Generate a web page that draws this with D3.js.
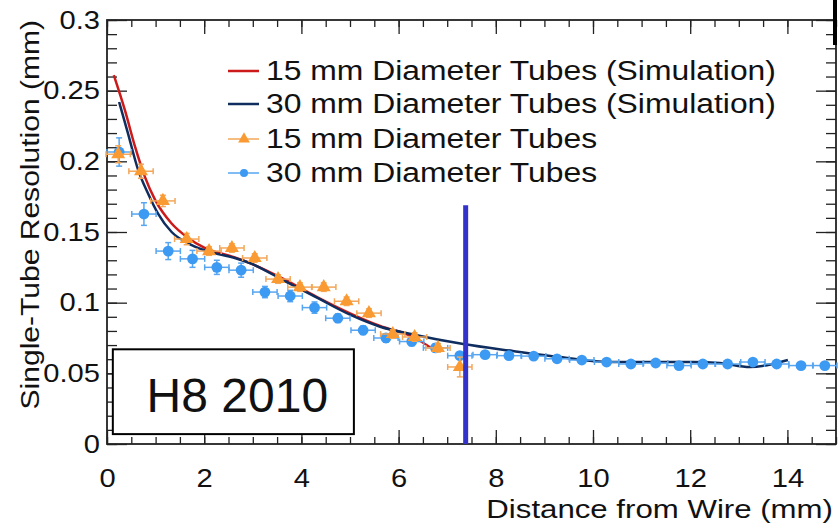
<!DOCTYPE html>
<html>
<head>
<meta charset="utf-8">
<script src="https://cdn.jsdelivr.net/npm/d3@7"></script>
<style>
  body { margin: 0; background: #fff; }
  svg text { font-family: "Liberation Sans", Arial, Helvetica, sans-serif; fill: #111; }
</style>
</head>
<body>
<div id="chart"></div>
<script>
// Data

// 15 mm tubes, measured (triangles)
const tube15X = [0.23, 0.70, 1.15, 1.64, 2.10, 2.57, 3.04, 3.52, 3.97, 4.46, 4.93, 5.39, 5.88, 6.33, 6.81, 7.26];
const tube15Y = [0.205, 0.193, 0.172, 0.145, 0.1365, 0.1387, 0.1316, 0.1167, 0.111, 0.111, 0.101, 0.0926, 0.0778, 0.0757, 0.068, 0.0545];
const tube15Ey = [0.006, 0.005, 0.004, 0.004, 0.003, 0.003, 0.003, 0.003, 0.003, 0.003, 0.003, 0.003, 0.003, 0.003, 0.003, 0.007];
const tube15Ex = 0.25;

// 30 mm tubes, measured (circles)
const tube30X = [0.25, 0.76, 1.26, 1.76, 2.26, 2.76, 3.25, 3.77, 4.27, 4.75, 5.27, 5.74, 6.27, 6.76, 7.26,
                 7.78, 8.27, 8.78, 9.26, 9.77, 10.28, 10.78, 11.29, 11.77, 12.26, 12.77, 13.29, 13.78, 14.28, 14.77];
const tube30Y = [0.2066, 0.1627, 0.1365, 0.131, 0.125, 0.123, 0.1075, 0.1047, 0.0965, 0.089, 0.0805, 0.075, 0.0725, 0.068, 0.0625,
                 0.0632, 0.0625, 0.0622, 0.0603, 0.0594, 0.058, 0.0566, 0.0573, 0.0555, 0.0566, 0.0566, 0.058, 0.0566, 0.0555, 0.0555];
const tube30Ey = [0.010, 0.008, 0.006, 0.006, 0.005, 0.005, 0.004, 0.004, 0.004, 0.003, 0.003, 0.003, 0.003, 0.003, 0.002,
                  0.002, 0.002, 0.002, 0.002, 0.002, 0.002, 0.002, 0.002, 0.002, 0.002, 0.002, 0.002, 0.002, 0.002, 0.002];
const tube30Ex = 0.25;

// simulation curves
const sim15X = [0.14, 0.37, 0.58, 0.78, 0.99, 1.33, 1.67, 2.01, 2.63, 2.94, 3.62, 4.32, 5.0, 5.62, 6.3, 6.71];
const sim15Y = [0.261, 0.236, 0.210, 0.189, 0.1727, 0.156, 0.1458, 0.1387, 0.132, 0.128, 0.117, 0.104, 0.0925, 0.0835, 0.0757, 0.067];
const sim30X = [0.25, 0.43, 0.64, 0.84, 1.05, 1.33, 1.67, 2.01, 2.63, 2.94, 3.62, 4.32, 5.0, 5.62, 6.3, 7.33,
                8.35, 9.32, 10.35, 11.38, 12.06, 12.61, 13.23, 13.7, 14.01];
const sim30Y = [0.242, 0.22, 0.194, 0.1776, 0.163, 0.150, 0.142, 0.137, 0.1316, 0.128, 0.116, 0.1035, 0.0915, 0.083, 0.0775, 0.0707,
                0.0658, 0.0615, 0.058, 0.058, 0.058, 0.0573, 0.0545, 0.0566, 0.0594];

// axes
const xTicks = [0, 2, 4, 6, 8, 10, 12, 14];
const yTicks = [0, 0.05, 0.1, 0.15, 0.2, 0.25, 0.3];
const yTickLabels = ["0", "0.05", "0.1", "0.15", "0.2", "0.25", "0.3"];

const legendLabels = [
  "15 mm Diameter Tubes (Simulation)",
  "30 mm Diameter Tubes (Simulation)",
  "15 mm Diameter Tubes",
  "30 mm Diameter Tubes"
];

// annotations
const markerX = 7.38, markerTop = 0.169;   // blue vertical line
const boxX = [0.12, 5.08], boxY = [0.007, 0.067];
const boxLabel = "H8 2010";

const width = 840, height = 526;
const red = "#cc1a1a", navy = "#0f2d5e", orange = "#fa9a32", orangeBar = "#f3a75a",
      blue = "#3d9af3", blueBar = "#58a6f0";

const x = d3.scaleLinear().domain([0, 15]).range([107, 836]);
const y = d3.scaleLinear().domain([0, 0.3]).range([444, 20]);

const svg = d3.select('#chart').append('svg')
  .attr('width', width)
  .attr('height', height);

svg.append('rect').attr('width', width).attr('height', height).attr('fill', '#fff');

// stretch text horizontally a little, the original font runs wide
function widen(sel, k) {
  sel.each(function () {
    const w = this.getComputedTextLength();
    d3.select(this).attr('textLength', w * k).attr('lengthAdjust', 'spacingAndGlyphs');
  });
}

// Axes: majors + minors on all four sides
const minorX = d3.range(0, 15.001, 0.5);
const minorY = d3.range(0, 0.3001, 0.01);

function axisGroup(axis, tx, ty) {
  const g = svg.append('g').attr('transform', `translate(${tx},${ty})`).call(axis);
  g.select('.domain').remove();
  g.selectAll('line').attr('stroke', '#222').attr('stroke-width', 1.3);
  return g;
}

const xAxis = axisGroup(d3.axisBottom(x).tickValues(xTicks).tickSize(-14).tickSizeOuter(0).tickPadding(25).tickFormat(d => d), 0, y(0));
axisGroup(d3.axisBottom(x).tickValues(minorX).tickSize(-7).tickFormat(''), 0, y(0));
axisGroup(d3.axisTop(x).tickValues(xTicks).tickSize(-14).tickFormat(''), 0, y(0.3));
axisGroup(d3.axisTop(x).tickValues(minorX).tickSize(-7).tickFormat(''), 0, y(0.3));

const yAxis = axisGroup(d3.axisLeft(y).tickValues(yTicks).tickSize(-20).tickPadding(7).tickFormat((d, i) => yTickLabels[i]), x(0), 0);
axisGroup(d3.axisLeft(y).tickValues(minorY).tickSize(-10).tickFormat(''), x(0), 0);
axisGroup(d3.axisRight(y).tickValues(yTicks).tickSize(-20).tickFormat(''), x(15), 0);
axisGroup(d3.axisRight(y).tickValues(minorY).tickSize(-10).tickFormat(''), x(15), 0);

xAxis.selectAll('text').attr('font-size', 26).attr('fill', '#111').call(widen, 1.12);
yAxis.selectAll('text').attr('font-size', 26).attr('fill', '#111').call(widen, 1.12);

// frame
svg.append('rect')
  .attr('x', x(0)).attr('y', y(0.3))
  .attr('width', x(15) - x(0)).attr('height', y(0) - y(0.3))
  .attr('fill', 'none').attr('stroke', '#222').attr('stroke-width', 1.8);

// axis titles
svg.append('text')
  .attr('x', x(15) - 3).attr('y', 518)
  .attr('text-anchor', 'end')
  .attr('font-size', 26)
  .text('Distance from Wire (mm)')
  .call(widen, 1.2);

svg.append('text')
  .attr('transform', `translate(39,${y(0.3)}) rotate(-90)`)
  .attr('text-anchor', 'end')
  .attr('font-size', 26)
  .text('Single-Tube Resolution (mm)')
  .call(widen, 1.155);

// simulation curves
const line = d3.line().curve(d3.curveMonotoneX);
svg.append('path')
  .attr('d', line(sim15X.map((d, i) => [x(d), y(sim15Y[i])])))
  .attr('fill', 'none').attr('stroke', red).attr('stroke-width', 2.5);
svg.append('path')
  .attr('d', line(sim30X.map((d, i) => [x(d), y(sim30Y[i])])))
  .attr('fill', 'none').attr('stroke', navy).attr('stroke-width', 2.5);

// data points with error bars (ROOT style end caps)
function errorBars(xs, ys, eys, ex, color) {
  const g = svg.append('g').attr('stroke', color).attr('stroke-width', 1.5);
  xs.forEach((d, i) => {
    const cx = x(d), cy = y(ys[i]);
    const x0 = x(d - ex), x1 = x(d + ex);
    const y0 = y(ys[i] - eys[i]), y1 = y(ys[i] + eys[i]);
    g.append('line').attr('x1', x0).attr('x2', x1).attr('y1', cy).attr('y2', cy);
    g.append('line').attr('x1', x0).attr('x2', x0).attr('y1', cy - 3).attr('y2', cy + 3);
    g.append('line').attr('x1', x1).attr('x2', x1).attr('y1', cy - 3).attr('y2', cy + 3);
    g.append('line').attr('x1', cx).attr('x2', cx).attr('y1', y0).attr('y2', y1);
    g.append('line').attr('x1', cx - 3).attr('x2', cx + 3).attr('y1', y0).attr('y2', y0);
    g.append('line').attr('x1', cx - 3).attr('x2', cx + 3).attr('y1', y1).attr('y2', y1);
  });
}

errorBars(tube30X, tube30Y, tube30Ey, tube30Ex, blueBar);
svg.append('g').selectAll('circle')
  .data(tube30X)
  .join('circle')
  .attr('cx', d => x(d))
  .attr('cy', (d, i) => y(tube30Y[i]))
  .attr('r', 5.4)
  .attr('fill', blue);

errorBars(tube15X, tube15Y, tube15Ey, tube15Ex, orangeBar);
const tri = d3.symbol(d3.symbolTriangle).size(85);
svg.append('g').selectAll('path')
  .data(tube15X)
  .join('path')
  .attr('transform', (d, i) => `translate(${x(d)},${y(tube15Y[i])})`)
  .attr('d', tri)
  .attr('fill', orange);

// legend
const legendRows = [71, 104, 139, 173];
const lg = svg.append('g');
legendLabels.forEach((label, i) => {
  const ly = legendRows[i];
  const color = [red, navy, orangeBar, blueBar][i];
  lg.append('line')
    .attr('x1', 228).attr('x2', 259).attr('y1', ly).attr('y2', ly)
    .attr('stroke', color).attr('stroke-width', i < 2 ? 2.5 : 1.5);
  if (i === 2) {
    lg.append('path').attr('transform', `translate(244,${ly})`)
      .attr('d', d3.symbol(d3.symbolTriangle).size(60)).attr('fill', orange);
  }
  if (i === 3) {
    lg.append('circle').attr('cx', 244).attr('cy', ly).attr('r', 4).attr('fill', blue);
  }
  lg.append('text')
    .attr('x', 266).attr('y', ly + 9)
    .attr('font-size', 27)
    .text(label)
    .call(widen, 1.18);
});

// blue marker line
svg.append('line')
  .attr('x1', x(markerX)).attr('x2', x(markerX))
  .attr('y1', y(markerTop)).attr('y2', y(0))
  .attr('stroke', '#3333cc').attr('stroke-width', 5);

// stray black bar at the top right corner
svg.append('line')
  .attr('x1', x(15) - 1).attr('x2', x(15) - 1)
  .attr('y1', 0).attr('y2', 45)
  .attr('stroke', '#000').attr('stroke-width', 4);

// H8 2010 label box
svg.append('rect')
  .attr('x', x(boxX[0])).attr('y', y(boxY[1]))
  .attr('width', x(boxX[1]) - x(boxX[0])).attr('height', y(boxY[0]) - y(boxY[1]))
  .attr('fill', '#fff').attr('stroke', '#000').attr('stroke-width', 2);
svg.append('text')
  .attr('x', (x(boxX[0]) + x(boxX[1])) / 2 + 4).attr('y', 412)
  .attr('text-anchor', 'middle')
  .attr('font-size', 48)
  .text(boxLabel);
</script>
</body>
</html>
